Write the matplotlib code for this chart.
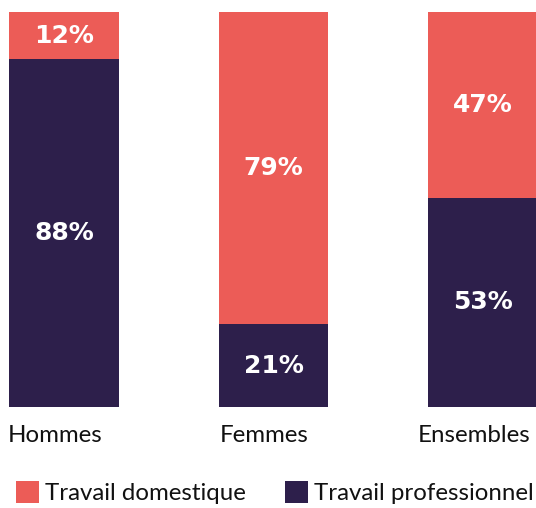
import matplotlib
matplotlib.use("Agg")
import matplotlib.pyplot as plt
from matplotlib.patches import Rectangle
import matplotlib.transforms as mtransforms

categories = ["Hommes", "Femmes", "Ensembles"]
travail_professionnel = [88, 21, 53]
travail_domestique = [12, 79, 47]
series_names = ["Travail domestique", "Travail professionnel"]

RED = "#EC5C57"
DARK = "#2D1F4B"
W, H = 536, 508

fig = plt.figure(figsize=(W / 100, H / 100), dpi=100)
ax = fig.add_axes([0, (H - 407) / H, 1, 395 / H])

x = list(range(len(categories)))
width = 0.525
ax.bar(x, travail_professionnel, width=width, color=DARK, linewidth=0)
ax.bar(x, travail_domestique, width=width, bottom=travail_professionnel,
       color=RED, linewidth=0)

ax.set_xlim(-64 / 209.5, (W - 64) / 209.5)
ax.set_ylim(0, 100)
ax.axis("off")

pct_font = dict(family="DejaVu Sans", weight="bold", size=18, color="white",
                ha="center", va="center")
for i in x:
    p = travail_professionnel[i]
    d = travail_domestique[i]
    ax.text(i, p / 2, f"{p}%", **pct_font)
    ax.text(i, p + d / 2, f"{d}%", **pct_font)

label_font = dict(family="Lato", size=17.3, color="#111111")
shift = mtransforms.ScaledTranslation(-9 / 100, 0, fig.dpi_scale_trans)
cat_tr = mtransforms.blended_transform_factory(ax.transData, fig.transFigure) + shift
for i, c in enumerate(categories):
    ax.text(i, (H - 436) / H, c, ha="center", va="center",
            transform=cat_tr, **label_font)

# legend (manual)
legend_items = [(series_names[0], RED, 16), (series_names[1], DARK, 285)]
for name, col, x0 in legend_items:
    fig.patches.append(Rectangle((x0 / W, (H - 503) / H), 23 / W, 22 / H,
                                 transform=fig.transFigure, color=col, linewidth=0))
    fig.text((x0 + 29) / W, (H - 493) / H, name, ha="left", va="center",
             **label_font)

fig.savefig("out.png", dpi=100)
